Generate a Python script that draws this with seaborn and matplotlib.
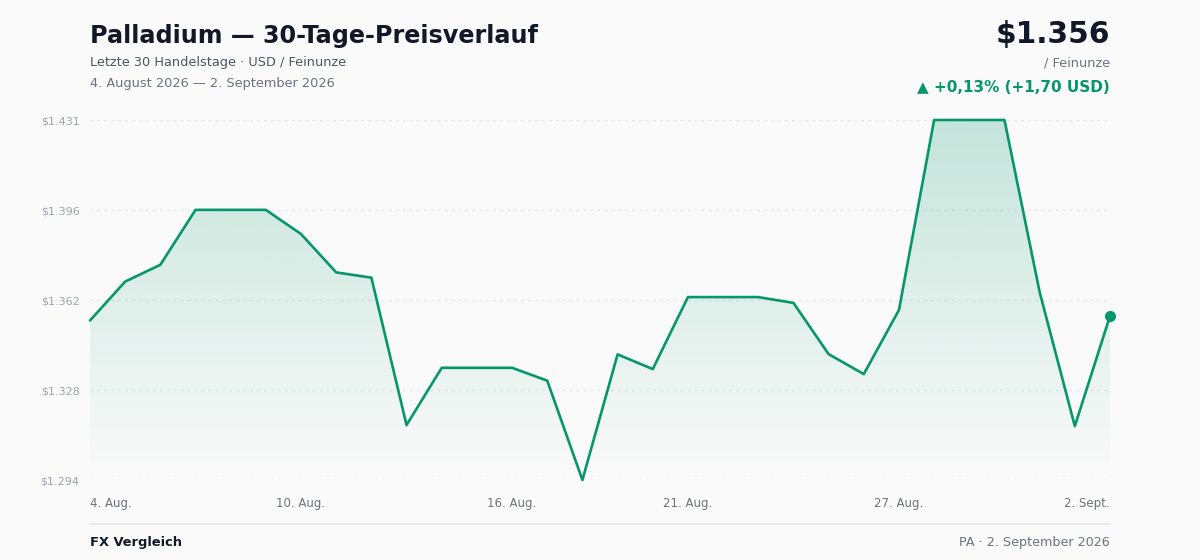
import numpy as np
import pandas as pd
import seaborn as sns
import matplotlib.pyplot as plt
import matplotlib.dates as mdates
from matplotlib.colors import to_rgb

# daily palladium price (USD / troy ounce)
dates = pd.date_range("2026-08-04", "2026-09-02", freq="D")
price = [
    1354.3, 1369.1, 1375.5, 1396.4, 1396.4, 1396.4, 1387.2, 1372.6, 1370.6, 1314.5,
    1336.3, 1336.3, 1336.3, 1331.4, 1293.6, 1341.4, 1335.8, 1363.2, 1363.2, 1363.2,
    1361.0, 1341.5, 1333.9, 1358.3, 1430.6, 1430.6, 1430.6, 1365.1, 1314.1, 1356.0,
]
tick_dates = pd.to_datetime(
    ["2026-08-04", "2026-08-10", "2026-08-16", "2026-08-21", "2026-08-27", "2026-09-02"]
)
month_abbr = {8: "Aug.", 9: "Sept."}

df = pd.DataFrame({"date": dates, "price": price})

GREEN = "#059669"
BG = "#fafafa"


def fmt_usd(v, dec=0):
    s = f"{v:,.{dec}f}"
    # German number format: 1.234,56
    return s.replace(",", "X").replace(".", ",").replace("X", ".")


sns.set_theme(style="white")
plt.rcParams["font.family"] = ["DejaVu Sans"]

fig = plt.figure(figsize=(12, 5.6), dpi=100, facecolor=BG)
ax = fig.add_axes([90 / 1200, 1 - 480 / 560, 1020 / 1200, 360 / 560])
ax.set_facecolor(BG)

sns.lineplot(data=df, x="date", y="price", color=GREEN, lw=1.9, clip_on=False, ax=ax, zorder=4)
ax.plot(df["date"].iloc[-1], df["price"].iloc[-1], "o", color=GREEN, ms=7, clip_on=False, zorder=5)

ymin, ymax = df["price"].min(), df["price"].max()

# gradient area under the line
poly = ax.fill_between(df["date"], df["price"], ymin, facecolor="none", edgecolor="none")
r, g, b = to_rgb(GREEN)
grad = np.zeros((256, 1, 4))
grad[:, 0, 0], grad[:, 0, 1], grad[:, 0, 2] = r, g, b
grad[:, 0, 3] = np.linspace(0.0, 0.22, 256)
x0, x1 = mdates.date2num(dates[0]), mdates.date2num(dates[-1])
img = ax.imshow(grad, extent=[x0, x1, ymin, ymax], aspect="auto", origin="lower", zorder=2)
img.set_clip_path(poly.get_paths()[0], transform=ax.transData)
ax.set_xlim(dates[0], dates[-1])
ax.set_ylim(ymin, ymax)

yticks = np.linspace(ymin, ymax, 5)
ax.set_yticks(yticks, ["$" + fmt_usd(v) for v in yticks])
ax.set_xticks(tick_dates, [f"{d.day}. {month_abbr[d.month]}" for d in tick_dates])
xl = ax.get_xticklabels()
xl[0].set_ha("left")
xl[-1].set_ha("right")

ax.tick_params(axis="y", length=0, pad=7.5, labelsize=8, labelcolor="#9ca3af")
ax.tick_params(axis="x", length=0, pad=12, labelsize=8.5, labelcolor="#6b7280")
ax.yaxis.grid(True, color="#e5e7eb", linestyle=(0, (2, 3)), lw=1)
ax.set_axisbelow(True)
sns.despine(ax=ax, left=True, bottom=True)
ax.set_xlabel("")
ax.set_ylabel("")


def px(x, y):
    return x / 1200, 1 - y / 560


last = price[-1]
change = price[-1] - price[0]
change_pct = change / price[0] * 100

fig.text(*px(90, 43), "Palladium — 30-Tage-Preisverlauf", fontsize=17.2, fontweight="bold",
         color="#111827", va="baseline")
fig.text(*px(90, 66), "Letzte 30 Handelstage · USD / Feinunze", fontsize=9.3,
         color="#4b5563", va="baseline")
fig.text(*px(90, 87), "4. August 2026 — 2. September 2026", fontsize=9.3,
         color="#6b7280", va="baseline")

fig.text(*px(1110, 43), "$" + fmt_usd(last), fontsize=21.3, fontweight="bold",
         color="#111827", ha="right", va="baseline")
fig.text(*px(1110, 66), "/ Feinunze", fontsize=9.3, color="#6b7280", ha="right", va="baseline")
fig.text(*px(1110, 92), f"▲ +{fmt_usd(change_pct, 2)}% (+{fmt_usd(change, 2)} USD)",
         fontsize=11, fontweight="bold", color=GREEN, ha="right", va="baseline")

fig.add_artist(plt.Line2D([90 / 1200, 1110 / 1200], [1 - 524 / 560] * 2,
                          color="#e5e7eb", lw=1.2))
fig.text(*px(90, 546), "FX Vergleich", fontsize=9.4, fontweight="bold",
         color="#111827", va="baseline")
fig.text(*px(1110, 546), "PA · 2. September 2026", fontsize=9.2,
         color="#6b7280", ha="right", va="baseline")

plt.savefig("out.png", dpi=100, facecolor=BG)
